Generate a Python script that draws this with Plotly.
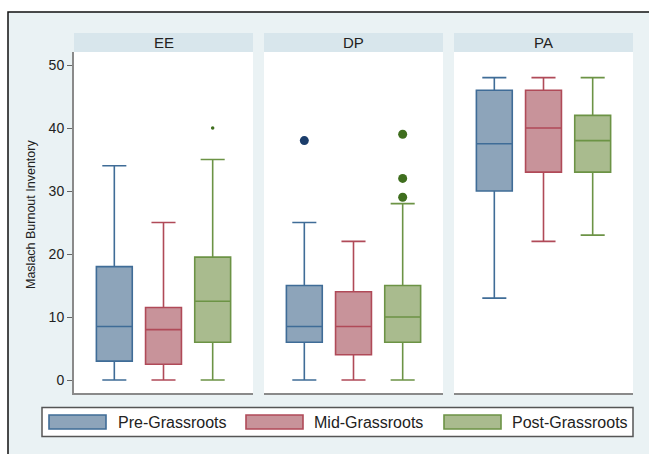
import plotly.graph_objects as go

W, H = 649, 454

panels = ["EE", "DP", "PA"]
groups = ["Pre-Grassroots", "Mid-Grassroots", "Post-Grassroots"]

# box statistics per panel, per group: lower whisker, q1, median, q3, upper whisker
lower = {"EE": [0, 0, 0], "DP": [0, 0, 0], "PA": [13, 22, 23]}
q1 = {"EE": [3, 2.5, 6], "DP": [6, 4, 6], "PA": [30, 33, 33]}
median = {"EE": [8.5, 8, 12.5], "DP": [8.5, 8.5, 10], "PA": [37.5, 40, 38]}
q3 = {"EE": [18, 11.5, 19.5], "DP": [15, 14, 15], "PA": [46, 46, 42]}
upper = {"EE": [34, 25, 35], "DP": [25, 22, 28], "PA": [48, 48, 48]}

# outliers: (panel, group index, value)
out_panel = ["EE", "DP", "DP", "DP", "DP"]
out_group = [2, 0, 2, 2, 2]
out_value = [40, 38, 29, 32, 39]

y_ticks = [0, 10, 20, 30, 40, 50]

fills = ["#8da4ba", "#c8939a", "#a9bb8e"]
lines = ["#3f6c97", "#b04a58", "#6c9345"]
dots = ["#1b3d6b", "#e02a2a", "#3f6e1e"]
out_sizes = {"EE": 3.5, "DP": 9}

def px(x):
    return x / W

def py(y):
    return 1 - y / H

panel_x = [(74, 253), (264, 443), (454, 633)]
plot_top, plot_bot = 52, 393
strip_top = 33

fig = go.Figure()

for pi, p in enumerate(panels):
    xa = "x" if pi == 0 else f"x{pi+1}"
    for gi, g in enumerate(groups):
        fig.add_trace(go.Box(
            x=[gi], q1=[q1[p][gi]], median=[median[p][gi]], q3=[q3[p][gi]],
            lowerfence=[lower[p][gi]], upperfence=[upper[p][gi]],
            width=0.73, whiskerwidth=0.67, boxpoints=False,
            fillcolor=fills[gi], line=dict(color=lines[gi], width=1.6),
            xaxis=xa, yaxis="y", showlegend=False, name=g,
        ))
    for pn, gi, v in zip(out_panel, out_group, out_value):
        if pn == p:
            fig.add_trace(go.Scatter(
                x=[gi], y=[v], mode="markers", xaxis=xa, yaxis="y",
                marker=dict(color=dots[gi], size=out_sizes[p], line=dict(width=0)),
                showlegend=False, hoverinfo="skip",
            ))

shapes = []
# outer frame
shapes.append(dict(type="rect", xref="paper", yref="paper",
                   x0=px(8), x1=1.03, y0=-0.03, y1=py(12),
                   fillcolor="#eaf2f4", line=dict(color="#111111", width=1.5), layer="below"))
annotations = []
for pi, p in enumerate(panels):
    x0, x1 = panel_x[pi]
    shapes.append(dict(type="rect", xref="paper", yref="paper",
                       x0=px(x0), x1=px(x1), y0=py(plot_bot), y1=py(plot_top),
                       fillcolor="white", line=dict(width=0), layer="below"))
    shapes.append(dict(type="rect", xref="paper", yref="paper",
                       x0=px(x0), x1=px(x1), y0=py(plot_top), y1=py(strip_top),
                       fillcolor="#d8e6ec", line=dict(width=0), layer="below"))
    annotations.append(dict(text=p, xref="paper", yref="paper",
                            x=px((x0 + x1) / 2), y=py((strip_top + plot_top) / 2),
                            xanchor="center", yanchor="middle", showarrow=False,
                            font=dict(size=15, color="#222222")))

# legend
shapes.append(dict(type="rect", xref="paper", yref="paper",
                   x0=px(42), x1=px(633), y0=py(436.5), y1=py(407.5),
                   fillcolor="white", line=dict(color="#555555", width=1.5), layer="below"))
sw_x = [49, 246, 444]
tx_x = [116, 312, 510]
for gi, g in enumerate(groups):
    shapes.append(dict(type="rect", xref="paper", yref="paper",
                       x0=px(sw_x[gi]), x1=px(sw_x[gi] + 57), y0=py(429), y1=py(415),
                       fillcolor=fills[gi], line=dict(color=lines[gi], width=1.6), layer="below"))
    annotations.append(dict(text=g, xref="paper", yref="paper",
                            x=px(tx_x[gi]), y=py(422), xanchor="left", yanchor="middle",
                            showarrow=False, font=dict(size=16, color="#222222")))

annotations.append(dict(text="Maslach Burnout Inventory", xref="paper", yref="paper",
                        x=px(31), y=py(215), textangle=-90, showarrow=False,
                        xanchor="center", yanchor="middle",
                        font=dict(size=12.5, color="#222222")))

layout = dict(
    width=W, height=H, margin=dict(l=0, r=0, t=0, b=0),
    paper_bgcolor="white", plot_bgcolor="rgba(0,0,0,0)",
    font=dict(family="Liberation Sans, Arial, sans-serif", color="#222222"),
    shapes=shapes, annotations=annotations,
    yaxis=dict(domain=[py(plot_bot), py(plot_top)], range=[-2.063, 52.063],
               tickvals=y_ticks, ticktext=[str(t) for t in y_ticks],
               ticks="outside", ticklen=5, tickwidth=1.3, tickcolor="#666666",
               showline=True, linecolor="#8a8a8a", linewidth=2,
               showgrid=False, zeroline=False, tickfont=dict(size=14, color="#222222"),
               anchor="x"),
)
for pi in range(3):
    key = "xaxis" if pi == 0 else f"xaxis{pi+1}"
    x0, x1 = panel_x[pi]
    layout[key] = dict(domain=[px(x0), px(x1)], range=[-0.82, 2.82],
                       showticklabels=False, ticks="", showgrid=False, zeroline=False,
                       showline=True, linecolor="#8a8a8a", linewidth=2, anchor="y")

fig.update_layout(**layout)
fig.write_html("out.html", config={"displayModeBar": False},
               post_script="document.body.style.margin='0';document.body.style.overflow='hidden';")
